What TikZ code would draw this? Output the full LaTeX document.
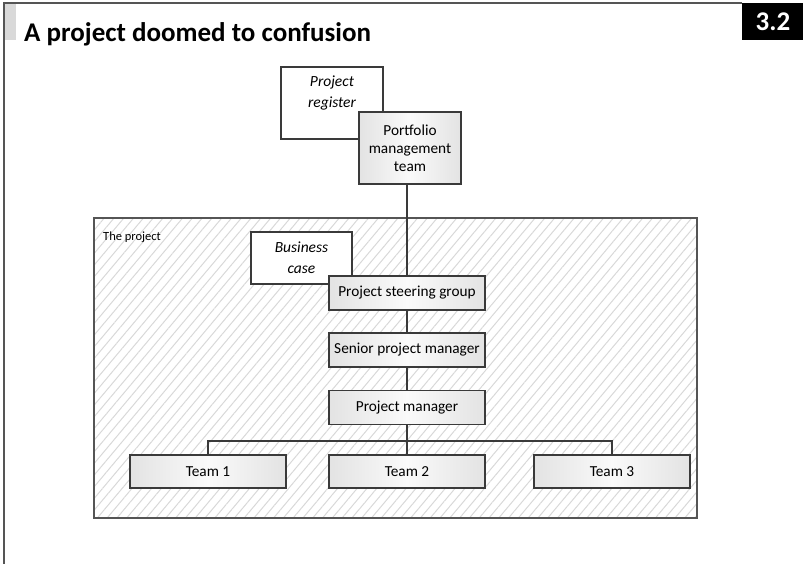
\documentclass[tikz,border=0pt]{standalone}
\usepackage{fontspec}
\setmainfont{Carlito}
\usetikzlibrary{patterns.meta}
\definecolor{edge}{HTML}{3A3A3A}
\definecolor{frameline}{HTML}{555555}
\definecolor{hatch}{HTML}{D8D8D8}
\tikzset{
  orgbox/.style={draw=edge, line width=1.2pt, left color=gray!22, right color=gray!22,
    middle color=gray!4, minimum width=156, minimum height=34, inner sep=0pt,
    font=\fontsize{15.3}{18}\selectfont},
  notebox/.style={draw=edge, line width=1.2pt, fill=white, inner sep=0pt,
    font=\fontsize{15.5}{21}\selectfont\itshape, align=center},
  link/.style={draw=edge, line width=1.2pt}
}
\begin{document}
\begin{tikzpicture}[x=1pt, y=-1pt]
  \useasboundingbox (0,0) rectangle (803,564);
  % page frame and heading
  \fill[gray!30] (5,4) rectangle (16,40);
  \draw[frameline, line width=1.5pt] (4,564) -- (4,3) -- (742,3);
  \fill[black] (742,3) rectangle (803,40);
  \node[text=white, font=\fontsize{27}{27}\selectfont\bfseries] (num) at (773,22) {3.2};
  \node[anchor=base west, inner sep=0pt, font=\fontsize{27}{27}\selectfont\bfseries] (title) at (24,42) {A project doomed to confusion};

  % the project area
  \draw[frameline, line width=1.3pt, pattern={Lines[angle=50, distance=7.5pt, line width=1pt]}, pattern color=hatch]
    (94,218) rectangle (697,518);
  \node[anchor=west, inner sep=0pt, font=\fontsize{12.5}{12}\selectfont] (area) at (103,237) {The project};

  % notes behind the boxes
  \node[notebox, minimum width=102, minimum height=72] (register) at (332,103) {};
  \node[inner sep=0pt, font=\fontsize{15.5}{21}\selectfont\itshape, align=center] (registertext) at (332,93) {Project\\register};
  \node[notebox, minimum width=101, minimum height=52] (business) at (301.5,258) {Business\\case};

  % boxes
  \node[orgbox, minimum width=102, minimum height=72, align=center] (portfolio) at (410,148) {Portfolio\\management\\team};
  \node[orgbox] (steering) at (407,293) {Project steering group};
  \node[orgbox] (senior) at (407,350) {Senior project manager};
  \node[orgbox] (pm) at (407,407.5) {Project manager};
  \node[orgbox, minimum height=33] (team1) at (208,471.5) {Team 1};
  \node[orgbox, minimum height=33] (team2) at (407,471.5) {Team 2};
  \node[orgbox, minimum height=33] (team3) at (612,471.5) {Team 3};

  % connectors
  \draw[link] (steering.north |- portfolio.south) -- (steering.north);
  \draw[link] (steering) -- (senior);
  \draw[link] (senior) -- (pm);
  \draw[link] (pm) -- (team2);
  \draw[link] (team1.north) -- ++(0,-13.5) -| (team3.north);
\end{tikzpicture}
\end{document}
